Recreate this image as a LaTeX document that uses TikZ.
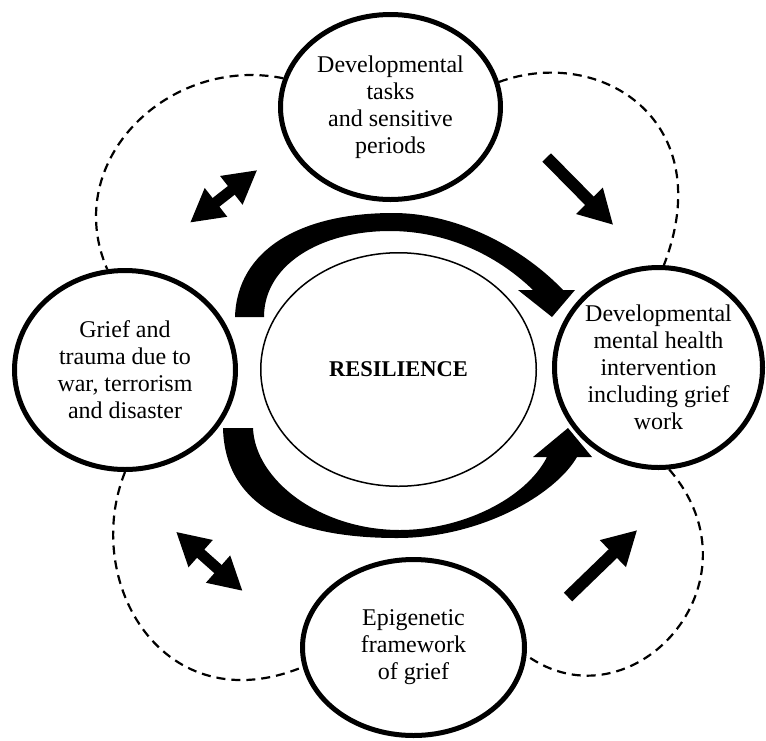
\documentclass[tikz,border=0pt]{standalone}
\usepackage{fontspec}
\setmainfont{Liberation Serif}
\usetikzlibrary{shapes.geometric,arrows.meta}
\begin{document}
\begin{tikzpicture}[x=1pt,y=-1pt,
  bubble/.style={ellipse,draw,line width=5pt,fill=white,inner sep=0pt,
    align=center,font=\fontsize{24}{27}\selectfont},
  core/.style={ellipse,draw,line width=1.5pt,inner sep=0pt,
    font=\bfseries\fontsize{22.5}{27}\selectfont},
  ringline/.style={line width=2.2pt,dash pattern=on 9pt off 6pt},
  onearrow/.style={line width=12pt,-{Triangle[length=34pt,width=35pt]}},
  twoarrow/.style={line width=11pt,
    {Triangle[length=33pt,width=34pt]}-{Triangle[length=33pt,width=34pt]}},
  sweep/.style={fill=black}]
\useasboundingbox (0,0) rectangle (766,740);

% the five ellipses
\node[bubble,minimum width=220pt,minimum height=185pt] (dev) at (390.5,107)
  {Developmental\\tasks\\and sensitive\\periods};
\node[bubble,minimum width=221pt,minimum height=199pt] (grief) at (125,370)
  {Grief and\\trauma due to\\war, terrorism\\and disaster};
\node[bubble,minimum width=208pt,minimum height=200pt] (mh) at (658.5,367.5)
  {Developmental\\mental health\\intervention\\including grief\\work};
\node[bubble,minimum width=222pt,minimum height=176pt] (epi) at (413.5,647.5)
  {Epigenetic\\framework\\of grief};
\node[core,minimum width=275.5pt,minimum height=233.5pt] (res) at (398.5,369.5)
  {RESILIENCE};

% dashed links around the ring
\draw[ringline] (dev.165) .. controls (170,55) and (60,160) .. (grief.100);
\draw[ringline] (dev.13) .. controls (600,45) and (720,120) .. (mh.87);
\draw[ringline] (grief.270) .. controls (81,582) and (163.5,724) .. (epi.190);
\draw[ringline] (mh.276) .. controls (767,583) and (631,730) .. (epi.-4);

% broad curved arrows around RESILIENCE
\path[sweep] (235,317) .. controls (237,250) and (300,213) .. (393,213)
  .. controls (460,213) and (525,250) .. (563,290)
  -- (575,290) -- (552,317) -- (518,290) -- (533,290)
  .. controls (500,258) and (450,231) .. (390,231)
  .. controls (320,231) and (264,265) .. (264,317) -- cycle;
\path[sweep] (223,428) .. controls (225,510) and (300,538) .. (397,538)
  .. controls (480,538) and (555,495) .. (577,457)
  -- (592,457) -- (568,428) -- (533,457) -- (547,457)
  .. controls (525,500) and (460,530) .. (400,530)
  .. controls (320,530) and (255,480) .. (253,428) -- cycle;

% straight arrows
\coordinate (trA) at (546.7,157.5);
\coordinate (trB) at (613.3,225);
\coordinate (brA) at (568,597);
\coordinate (brB) at (637.3,530);
\coordinate (tlA) at (190,222.7);
\coordinate (tlB) at (257.3,170);
\coordinate (blA) at (176,531.7);
\coordinate (blB) at (242.7,591);
\draw[onearrow] (trA) -- (trB);
\draw[onearrow] (brA) -- (brB);
\draw[twoarrow] (tlA) -- (tlB);
\draw[twoarrow] (blA) -- (blB);
\end{tikzpicture}
\end{document}
